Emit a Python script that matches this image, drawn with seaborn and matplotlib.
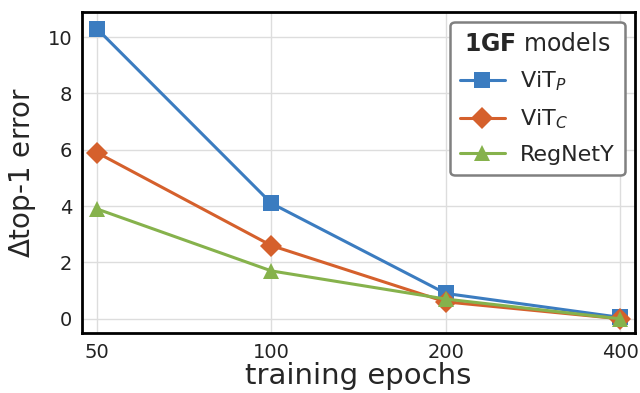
import matplotlib
matplotlib.use("Agg")
import matplotlib.pyplot as plt
import seaborn as sns
import pandas as pd

epochs = [50, 100, 200, 400]
vit_p = [10.3, 4.1, 0.9, 0.05]
vit_c = [5.9, 2.6, 0.6, 0.0]
regnety = [3.9, 1.7, 0.7, 0.0]
names = [r"ViT$_P$", r"ViT$_C$", "RegNetY"]
colors = ["#3b7cc0", "#d5602c", "#86b24c"]
markers = ["s", "D", "^"]

df = pd.DataFrame({
    "epochs": epochs * 3,
    "err": vit_p + vit_c + regnety,
    "model": [names[0]] * 4 + [names[1]] * 4 + [names[2]] * 4,
})

sns.set_theme(style="whitegrid")
plt.rcParams["font.family"] = ["DejaVu Sans"]

fig, ax = plt.subplots(figsize=(6.4, 3.93), dpi=100)
for name, c, m in zip(names, colors, markers):
    sub = df[df["model"] == name]
    sns.lineplot(data=sub, x="epochs", y="err", ax=ax, color=c, marker=m,
                 markersize=11, linewidth=2.2, markeredgewidth=0, label=name)

ax.set_xscale("log", base=2)
ax.set_xticks(epochs)
ax.set_xticklabels([str(e) for e in epochs])
ax.minorticks_off()
ax.set_xlim(47.1, 424)
ax.set_ylim(-0.5, 10.9)
ax.set_yticks([0, 2, 4, 6, 8, 10])
ax.tick_params(labelsize=14, colors="#222222", length=0, pad=7)
ax.set_xlabel("training epochs", fontsize=21, labelpad=0)
ax.set_ylabel(r"$\Delta$top-1 error", fontsize=20, labelpad=7)
ax.grid(True, color="#dddddd", linewidth=1)
for s in ax.spines.values():
    s.set_edgecolor("black")
    s.set_linewidth(2)

leg = ax.legend(title=r"$\mathbf{1GF}$ models", loc="upper right", fontsize=16,
                title_fontsize=17, frameon=True, fancybox=True, handlelength=2.0,
                borderpad=0.45, labelspacing=0.63, handletextpad=0.7,
                borderaxespad=0.45, bbox_to_anchor=(1.0, 1.0))
leg.get_frame().set_edgecolor("#808080")
leg.get_frame().set_linewidth(1.8)
leg.get_frame().set_alpha(1)

fig.subplots_adjust(left=0.128, right=0.992, top=0.97, bottom=0.153)
fig.savefig("out.png", dpi=100)
